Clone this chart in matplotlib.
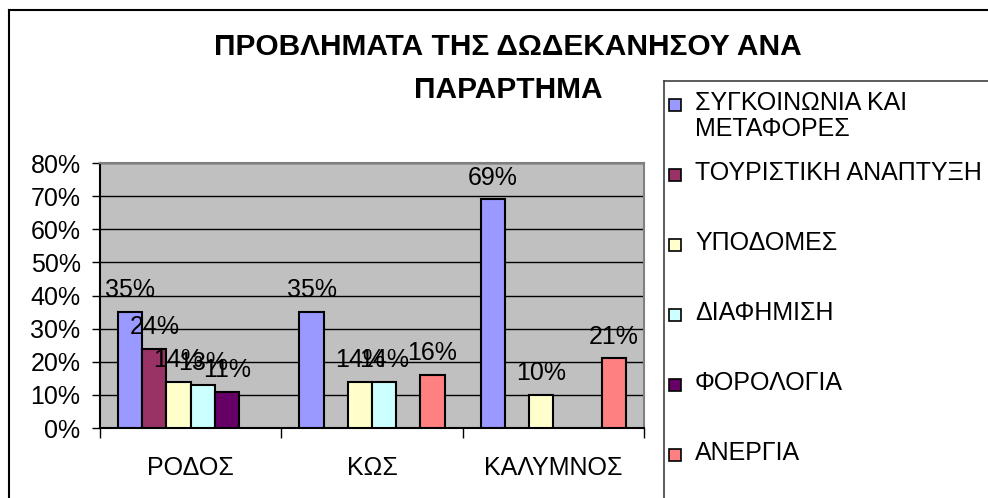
import numpy as np
import matplotlib
matplotlib.use("Agg")
import matplotlib.pyplot as plt
from matplotlib.patches import Rectangle

plt.rcParams.update({
    "font.family": ["Liberation Sans", "DejaVu Sans"],
    "font.size": 18,
})

# ---- data ----
categories = ["ΡΟΔΟΣ", "ΚΩΣ", "ΚΑΛΥΜΝΟΣ"]
series_names = ["ΣΥΓΚΟΙΝΩΝΙΑ ΚΑΙ\nΜΕΤΑΦΟΡΕΣ", "ΤΟΥΡΙΣΤΙΚΗ ΑΝΑΠΤΥΞΗ", "ΥΠΟΔΟΜΕΣ",
                "ΔΙΑΦΗΜΙΣΗ", "ΦΟΡΟΛΟΓΙΑ", "ΑΝΕΡΓΙΑ"]
transport = [35, 35, 69]
tourism = [24, np.nan, np.nan]
infrastructure = [14, 14, 10]
advertising = [13, 14, np.nan]
taxation = [11, np.nan, np.nan]
unemployment = [np.nan, 16, 21]
series = [transport, tourism, infrastructure, advertising, taxation, unemployment]
colors = ["#9999FF", "#993366", "#FFFFCC", "#CCFFFF", "#660066", "#FF8080"]
yticks = [0, 10, 20, 30, 40, 50, 60, 70, 80]

W, H = 988, 498
fig = plt.figure(figsize=(W / 100, H / 100), dpi=100)
ax = fig.add_axes([100 / W, 1 - 428 / H, 544 / W, 265 / H])
ax.set_facecolor("#C0C0C0")

n = len(series)
bw = 1 / (n + 1.5)
x = np.arange(len(categories))
for i, (vals, c) in enumerate(zip(series, colors)):
    pos = x - 0.5 + 0.75 * bw + (i + 0.5) * bw
    bars = ax.bar(pos, vals, width=bw, color=c, edgecolor="black", linewidth=1.5, zorder=3)
    labels = ["" if np.isnan(v) else f"{v:.0f}%" for v in vals]
    ax.bar_label(bars, labels=labels, padding=7, fontsize=18, zorder=5)

ax.set_xlim(-0.5, len(categories) - 0.5)
ax.set_ylim(0, 80)
ax.set_yticks(yticks)
ax.set_yticklabels([f"{t}%" for t in yticks])
ax.yaxis.grid(True, color="black", lw=1.0, zorder=1)
ax.tick_params(axis="y", length=6, width=1, pad=8, labelsize=18)
ax.set_xticks(x)
ax.set_xticklabels(categories)
ax.tick_params(axis="x", length=0, pad=20, labelsize=18)
ax.set_xticks(np.arange(len(categories) + 1) - 0.5, minor=True)
ax.tick_params(axis="x", which="minor", length=7, width=1)
for s in ["top", "right"]:
    ax.spines[s].set_color("#808080")
    ax.spines[s].set_linewidth(1.5)
for s in ["left", "bottom"]:
    ax.spines[s].set_color("black")
    ax.spines[s].set_linewidth(1.5)

# title
fig.text(508 / W, 1 - 47 / H, "ΠΡΟΒΛΗΜΑΤΑ ΤΗΣ ΔΩΔΕΚΑΝΗΣΟΥ ΑΝΑ", ha="center", va="center",
         fontsize=21.5, fontweight="bold")
fig.text(508 / W, 1 - 90 / H, "ΠΑΡΑΡΤΗΜΑ", ha="center", va="center",
         fontsize=21.5, fontweight="bold")

# chart border (top and left visible)
fig.add_artist(plt.Line2D([9 / W, 9 / W], [0, 1 - 10 / H], color="black", lw=1.5))
fig.add_artist(plt.Line2D([9 / W, 1], [1 - 10 / H, 1 - 10 / H], color="black", lw=1.5))

# legend box
fig.add_artist(plt.Line2D([664 / W, 664 / W], [0, 1 - 81 / H], color="#404040", lw=1.2))
fig.add_artist(plt.Line2D([664 / W, 1], [1 - 81 / H, 1 - 81 / H], color="#404040", lw=1.2))
for i, (name, c) in enumerate(zip(series_names, colors)):
    yc = 105 + 70 * i
    fig.add_artist(Rectangle((669 / W, 1 - (yc + 6) / H), 12 / W, 12 / H,
                             facecolor=c, edgecolor="black", lw=1.2))
    fig.text(695 / W, 1 - (yc - 14) / H, name, ha="left", va="top", fontsize=18,
             linespacing=1.1)

fig.savefig("out.png", dpi=100)
